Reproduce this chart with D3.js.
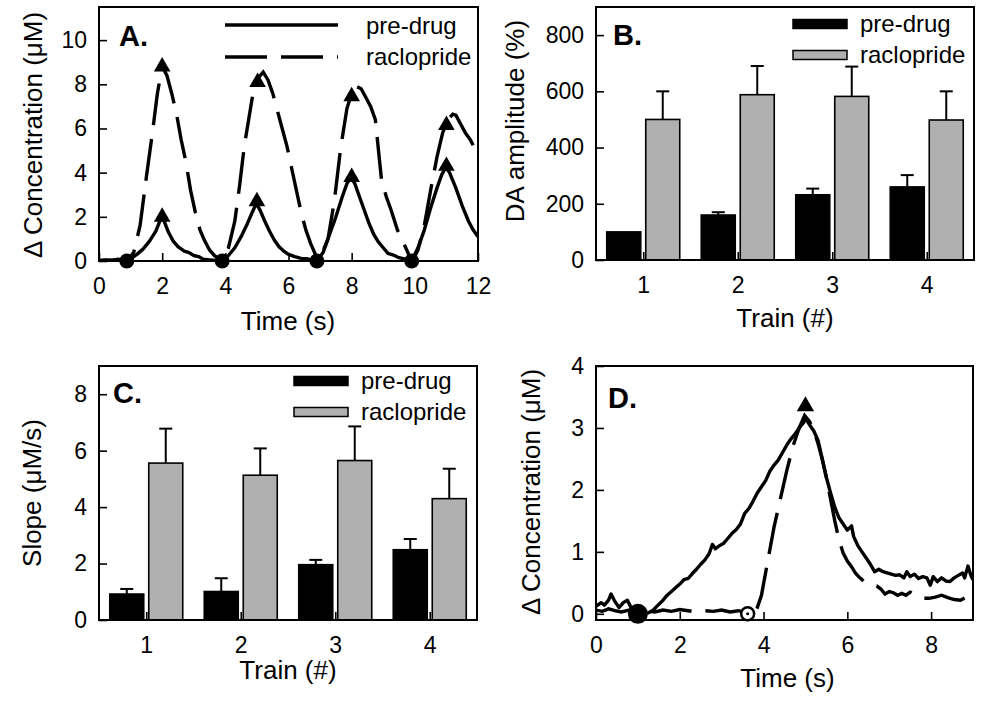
<!DOCTYPE html>
<html><head><meta charset="utf-8">
<script src="https://cdn.jsdelivr.net/npm/d3@7"></script>
<style>
html,body{margin:0;padding:0;background:#fff;}
svg{display:block;font-family:"Liberation Sans",Arial,sans-serif;}
</style></head>
<body>
<svg id="chart" width="985" height="702"></svg>
<script>
// ---------- DATA ----------
const seriesNames = ["pre-drug", "raclopride"];
const trains = ["1", "2", "3", "4"];

// Panel A traces [time (s), concentration (uM)]
const aPreDrug = [[0,0.02],[0.2,0.05],[0.4,0.02],[0.6,0.08],[0.8,0.03],[0.9,0.0],[1.0,0.1],[1.2,0.3],[1.4,0.55],[1.6,0.9],[1.8,1.35],[1.95,1.9],[2.05,1.85],[2.2,1.3],[2.35,0.9],[2.5,0.65],[2.7,0.45],[2.85,0.38],[3.0,0.25],[3.15,0.2],[3.3,0.08],[3.5,0.05],[3.7,0.02],[3.9,0.0],[4.1,0.25],[4.3,0.6],[4.5,1.1],[4.7,1.7],[4.85,2.2],[4.98,2.6],[5.1,2.3],[5.25,1.8],[5.4,1.35],[5.55,0.95],[5.7,0.65],[5.85,0.45],[6.0,0.3],[6.2,0.2],[6.4,0.12],[6.6,0.1],[6.8,0.03],[6.9,0.0],[7.1,0.4],[7.3,1.2],[7.5,2.0],[7.7,2.9],[7.85,3.5],[7.98,3.8],[8.1,3.5],[8.25,2.9],[8.4,2.3],[8.55,1.7],[8.7,1.2],[8.85,0.85],[9.0,0.6],[9.15,0.35],[9.3,0.28],[9.5,0.15],[9.7,0.08],[9.9,0.0],[10.1,0.6],[10.3,1.4],[10.5,2.4],[10.7,3.3],[10.85,3.9],[10.98,4.25],[11.1,4.0],[11.3,3.3],[11.5,2.5],[11.7,1.8],[11.85,1.4],[12.0,1.1]];
const aRaclopride = [[0,0.0],[0.2,0.02],[0.5,0.05],[0.9,0.0],[1.1,0.4],[1.3,1.6],[1.5,3.8],[1.7,5.9],[1.85,7.6],[2.0,8.8],[2.15,8.4],[2.3,7.6],[2.45,6.7],[2.6,5.5],[2.75,4.5],[2.9,3.2],[3.05,2.2],[3.2,1.4],[3.35,0.9],[3.5,0.5],[3.65,0.25],[3.8,0.1],[3.9,0.0],[4.1,0.6],[4.3,1.8],[4.45,3.4],[4.6,5.2],[4.75,6.5],[4.9,7.8],[5.05,8.3],[5.2,8.55],[5.35,8.2],[5.5,7.6],[5.65,6.8],[5.8,6.0],[5.95,5.2],[6.1,4.2],[6.25,3.2],[6.4,2.2],[6.55,1.4],[6.7,0.8],[6.85,0.3],[6.92,0.0],[7.05,0.3],[7.25,1.0],[7.45,2.7],[7.65,5.1],[7.85,6.9],[8.0,7.6],[8.15,7.9],[8.3,7.8],[8.45,7.4],[8.6,7.0],[8.75,6.4],[8.85,5.0],[8.95,3.6],[9.1,2.9],[9.25,2.3],[9.45,1.4],[9.65,0.8],[9.85,0.15],[9.93,0.0],[10.1,0.5],[10.3,1.6],[10.5,3.2],[10.7,4.7],[10.88,5.8],[11.05,6.4],[11.2,6.65],[11.3,6.6],[11.45,6.2],[11.6,5.8],[11.75,5.5],[11.9,5.1],[12.0,4.9]];
const aOnsets = [0.88, 3.9, 6.9, 9.9];
const aPeaksPre = [[2.0,2.0],[5.0,2.7],[8.0,3.8],[11.0,4.3]];
const aPeaksRac = [[2.0,8.8],[5.02,8.1],[8.0,7.45],[11.0,6.15]];

// Panel B: DA amplitude (%)
const bPre = [100, 160, 232, 260];
const bPreErr = [0, 10, 22, 42];
const bRac = [500, 588, 582, 498];
const bRacErr = [100, 102, 106, 102];

// Panel C: slope (uM/s)
const cPre = [0.92, 1.01, 1.96, 2.49];
const cPreErr = [0.18, 0.47, 0.17, 0.38];
const cRac = [5.56, 5.13, 5.65, 4.30];
const cRacErr = [1.22, 0.95, 1.21, 1.06];

// Panel D traces
const dPreDrug = [[0,0.12],[0.12,0.18],[0.2,0.14],[0.3,0.22],[0.36,0.32],[0.45,0.2],[0.55,0.1],[0.65,0.18],[0.75,0.22],[0.85,0.08],[0.95,0.05],[1.05,0.02],[1.2,0.0],[1.35,0.05],[1.45,0.12],[1.6,0.22],[1.7,0.3],[1.8,0.36],[1.9,0.42],[2.0,0.48],[2.1,0.55],[2.2,0.57],[2.3,0.65],[2.4,0.72],[2.5,0.8],[2.6,0.87],[2.7,0.97],[2.78,1.12],[2.85,1.05],[2.95,1.1],[3.05,1.14],[3.15,1.22],[3.25,1.3],[3.35,1.36],[3.45,1.45],[3.55,1.62],[3.65,1.7],[3.75,1.82],[3.85,1.95],[3.95,2.05],[4.05,2.15],[4.15,2.3],[4.25,2.4],[4.35,2.48],[4.45,2.6],[4.55,2.72],[4.65,2.82],[4.75,2.9],[4.85,3.0],[4.95,3.08],[5.0,3.15],[5.1,3.05],[5.2,2.95],[5.3,2.8],[5.4,2.5],[5.5,2.2],[5.6,1.95],[5.7,1.72],[5.8,1.55],[5.9,1.45],[6.0,1.35],[6.1,1.42],[6.15,1.25],[6.25,1.1],[6.35,1.0],[6.45,0.9],[6.55,0.8],[6.65,0.68],[6.75,0.72],[6.85,0.68],[6.95,0.66],[7.05,0.64],[7.15,0.62],[7.25,0.63],[7.35,0.58],[7.42,0.68],[7.5,0.6],[7.6,0.64],[7.7,0.57],[7.8,0.6],[7.9,0.58],[7.98,0.46],[8.05,0.6],[8.15,0.52],[8.25,0.58],[8.35,0.53],[8.45,0.52],[8.55,0.58],[8.65,0.62],[8.75,0.66],[8.8,0.58],[8.88,0.77],[8.95,0.62],[9.0,0.55]];
const dRaclopride = [[0,0.06],[0.15,0.04],[0.3,0.08],[0.45,0.05],[0.6,0.03],[0.8,0.06],[1.0,0.02],[1.2,0.05],[1.4,0.03],[1.6,0.06],[1.8,0.04],[2.0,0.07],[2.2,0.05],[2.4,0.03],[2.6,0.05],[2.8,0.04],[3.0,0.06],[3.2,0.03],[3.4,0.05],[3.6,0.02],[3.8,0.0],[3.95,0.3],[4.1,0.85],[4.25,1.4],[4.4,1.85],[4.55,2.3],[4.7,2.7],[4.85,3.0],[4.98,3.2],[5.1,3.1],[5.2,2.95],[5.3,2.75],[5.4,2.5],[5.5,2.2],[5.6,1.85],[5.7,1.5],[5.8,1.2],[5.9,0.98],[6.0,0.85],[6.1,0.76],[6.2,0.65],[6.3,0.58],[6.4,0.52],[6.55,0.47],[6.7,0.45],[6.8,0.4],[6.9,0.32],[7.0,0.36],[7.1,0.34],[7.2,0.3],[7.3,0.33],[7.4,0.3],[7.5,0.35],[7.65,0.3],[7.8,0.25],[7.95,0.25],[8.1,0.27],[8.25,0.3],[8.4,0.26],[8.55,0.23],[8.7,0.22],[8.84,0.27]];
const dOnsetPre = [1.0, 0];
const dOnsetRac = [3.62, 0];
const dPeak = [5.0, 3.35];

const aXTicks = [0,2,4,6,8,10,12];
const aYTicks = [0,2,4,6,8,10];
const bYTicks = [0,200,400,600,800];
const cYTicks = [0,2,4,6,8];
const dXTicks = [0,2,4,6,8];
const dYTicks = [0,1,2,3,4];

// ---------- DRAWING ----------
const svg = d3.select("#chart");
const FONT_TICK = 23, FONT_TITLE = 26, FONT_LEG = 24, FONT_LABEL = 29;
const DASH = "42,14";
const GREY = "#b0b0b0";
const LW = 3.4;

function frame(g, L, R, T, B) {
  g.append("rect").attr("x", L).attr("y", T).attr("width", R - L).attr("height", B - T)
    .attr("fill", "none").attr("stroke", "#000").attr("stroke-width", 2);
}
function styleAxis(sel) {
  sel.select(".domain").remove();
  sel.selectAll(".tick line").attr("stroke", "#000").attr("stroke-width", 1.6);
  sel.selectAll(".tick text").attr("font-size", FONT_TICK).attr("fill", "#000")
    .attr("font-family", "Liberation Sans, Arial, sans-serif");
}
function yAxis(g, y, L, ticks, fmt) {
  const ax = g.append("g").attr("transform", `translate(${L},0)`)
    .call(d3.axisLeft(y).tickValues(ticks).tickSize(-8).tickPadding(12).tickFormat(fmt || d3.format("d")));
  styleAxis(ax);
}
function xAxis(g, x, B, ticks, fmt) {
  const ax = g.append("g").attr("transform", `translate(0,${B})`)
    .call(d3.axisBottom(x).tickValues(ticks).tickSize(-8).tickPadding(17).tickFormat(fmt || d3.format("d")));
  styleAxis(ax);
}
function text(g, x, y, s, opts) {
  opts = opts || {};
  const t = g.append("text").attr("x", x).attr("y", y).text(s)
    .attr("font-size", opts.size || FONT_TITLE).attr("fill", "#000")
    .attr("text-anchor", opts.anchor || "start");
  if (opts.bold) t.attr("font-weight", "bold");
  if (opts.rot) t.attr("transform", `rotate(-90,${x},${y})`);
  return t;
}
function clip(id, L, R, T, B) {
  svg.append("clipPath").attr("id", id).append("rect")
    .attr("x", L).attr("y", T).attr("width", R - L).attr("height", B - T);
}

// ---------- Panel A ----------
(function(){
  const L = 99, R = 478, T = 7, B = 261;
  const g = svg.append("g");
  const x = d3.scaleLinear().domain([0, 12]).range([L, R]);
  const y = d3.scaleLinear().domain([0, 11.5]).range([B, T]);
  clip("clipA", L, R, T, B);
  const line = d3.line().x(d => x(d[0])).y(d => y(d[1]));
  const lg = g.append("g").attr("clip-path", "url(#clipA)");
  lg.append("path").datum(aPreDrug).attr("d", line).attr("fill", "none")
    .attr("stroke", "#000").attr("stroke-width", LW).attr("stroke-linejoin", "round");
  lg.append("path").datum(aRaclopride).attr("d", line).attr("fill", "none")
    .attr("stroke", "#000").attr("stroke-width", LW).attr("stroke-dasharray", DASH);
  const tri = d3.symbol().type(d3.symbolTriangle).size(120);
  g.selectAll(".tp").data(aPeaksPre.concat(aPeaksRac)).join("path")
    .attr("d", tri).attr("transform", d => `translate(${x(d[0])},${y(d[1])})`).attr("fill", "#000");
  g.selectAll(".on").data(aOnsets).join("circle")
    .attr("cx", d => x(d)).attr("cy", y(0)).attr("r", 7.5).attr("fill", "#000");
  xAxis(g, x, B, aXTicks);
  yAxis(g, y, L, aYTicks);
  frame(g, L, R, T, B);
  // legend
  g.append("line").attr("x1", 225).attr("x2", 338).attr("y1", 25).attr("y2", 25)
    .attr("stroke", "#000").attr("stroke-width", LW);
  g.append("line").attr("x1", 225).attr("x2", 338).attr("y1", 57).attr("y2", 57)
    .attr("stroke", "#000").attr("stroke-width", LW).attr("stroke-dasharray", DASH);
  text(g, 366, 34, seriesNames[0], {size: FONT_LEG});
  text(g, 366, 65, seriesNames[1], {size: FONT_LEG});
  text(g, 119, 46, "A.", {size: FONT_LABEL, bold: true});
  text(g, 288, 330, "Time (s)", {anchor: "middle"});
  text(g, 42, 135, "\u0394 Concentration (\u03bcM)", {anchor: "middle", rot: true});
})();

// ---------- Bar panels ----------
function barPanel(opt) {
  const {L, R, T, B, ymax, pre, preErr, rac, racErr, ticks, label, labelPos, ytitle, ytitlePos, xtitleY, legY, legX} = opt;
  const g = svg.append("g");
  const x0 = d3.scaleBand().domain(trains).range([L, R]).paddingInner(0.2275).paddingOuter(0.11375);
  const x1 = d3.scaleBand().domain(seriesNames).range([0, x0.bandwidth()]).paddingInner(0.128);
  const y = d3.scaleLinear().domain([0, ymax]).range([B, T]);
  const rows = trains.map((t, i) => ({t, vals: [
    {s: seriesNames[0], v: pre[i], e: preErr[i]},
    {s: seriesNames[1], v: rac[i], e: racErr[i]}]}));
  const grp = g.selectAll(".grp").data(rows).join("g").attr("transform", d => `translate(${x0(d.t)},0)`);
  grp.selectAll(".err").data(d => d.vals).join("g").each(function(d){
    const cx = x1(d.s) + x1.bandwidth() / 2;
    const gg = d3.select(this);
    if (d.e > 0) {
      gg.append("line").attr("x1", cx).attr("x2", cx).attr("y1", y(d.v)).attr("y2", y(d.v + d.e))
        .attr("stroke", "#000").attr("stroke-width", 2);
      gg.append("line").attr("x1", cx - 6.5).attr("x2", cx + 6.5).attr("y1", y(d.v + d.e)).attr("y2", y(d.v + d.e))
        .attr("stroke", "#000").attr("stroke-width", 2);
    }
  });
  grp.selectAll("rect").data(d => d.vals).join("rect")
    .attr("x", d => x1(d.s)).attr("width", x1.bandwidth())
    .attr("y", d => y(d.v)).attr("height", d => B - y(d.v))
    .attr("fill", d => d.s === seriesNames[0] ? "#000" : GREY)
    .attr("stroke", "#000").attr("stroke-width", 1.6);
  const xc = d3.scalePoint().domain(trains).range([x0(trains[0]) + x0.bandwidth()/2, x0(trains[3]) + x0.bandwidth()/2]);
  xAxis(g, xc, B, trains, d => d);
  yAxis(g, y, L, ticks, opt.fmt);
  frame(g, L, R, T, B);
  g.append("rect").attr("x", legX).attr("y", legY - 4.5).attr("width", 54).attr("height", 9)
    .attr("fill", "#000").attr("stroke", "#000").attr("stroke-width", 1.5);
  g.append("rect").attr("x", legX).attr("y", legY + 31 - 4.5).attr("width", 54).attr("height", 9)
    .attr("fill", GREY).attr("stroke", "#000").attr("stroke-width", 1.5);
  text(g, legX + 67, legY + 8, seriesNames[0], {size: FONT_LEG});
  text(g, legX + 67, legY + 39, seriesNames[1], {size: FONT_LEG});
  text(g, labelPos[0], labelPos[1], label, {size: FONT_LABEL, bold: true});
  text(g, (L + R) / 2, xtitleY, "Train (#)", {anchor: "middle"});
  text(g, ytitlePos[0], ytitlePos[1], ytitle, {anchor: "middle", rot: true});
}

barPanel({L: 596, R: 974, T: 7, B: 260, ymax: 900, pre: bPre, preErr: bPreErr, rac: bRac, racErr: bRacErr,
  ticks: bYTicks, label: "B.", labelPos: [613, 45], ytitle: "DA amplitude (%)", ytitlePos: [524, 121],
  xtitleY: 327, legX: 793, legY: 24});
barPanel({L: 99, R: 477, T: 366, B: 620, ymax: 9, pre: cPre, preErr: cPreErr, rac: cRac, racErr: cRacErr,
  ticks: cYTicks, label: "C.", labelPos: [113, 403], ytitle: "Slope (\u03bcM/s)", ytitlePos: [41, 493],
  xtitleY: 679, legX: 294, legY: 381});

// ---------- Panel D ----------
(function(){
  const L = 596, R = 973, T = 366, B = 620;
  const g = svg.append("g");
  const x = d3.scaleLinear().domain([0, 9]).range([L, R]);
  const y = d3.scaleLinear().domain([-0.1, 4]).range([B, T]);
  clip("clipD", L, R, T, B);
  const line = d3.line().x(d => x(d[0])).y(d => y(d[1]));
  const lg = g.append("g").attr("clip-path", "url(#clipD)");
  lg.append("path").datum(dPreDrug).attr("d", line).attr("fill", "none")
    .attr("stroke", "#000").attr("stroke-width", LW).attr("stroke-linejoin", "round");
  lg.append("path").datum(dRaclopride).attr("d", line).attr("fill", "none")
    .attr("stroke", "#000").attr("stroke-width", LW).attr("stroke-dasharray", DASH);
  g.append("circle").attr("cx", x(dOnsetPre[0])).attr("cy", y(dOnsetPre[1])).attr("r", 10).attr("fill", "#000");
  g.append("circle").attr("cx", x(dOnsetRac[0])).attr("cy", y(dOnsetRac[1])).attr("r", 6.5)
    .attr("fill", "#fff").attr("stroke", "#000").attr("stroke-width", 2.5);
  g.append("circle").attr("cx", x(dOnsetRac[0])).attr("cy", y(dOnsetRac[1])).attr("r", 1.5).attr("fill", "#000");
  g.append("path").attr("d", d3.symbol().type(d3.symbolTriangle).size(130))
    .attr("transform", `translate(${x(dPeak[0])},${y(dPeak[1])})`).attr("fill", "#000");
  xAxis(g, x, B, dXTicks);
  yAxis(g, y, L, dYTicks);
  frame(g, L, R, T, B);
  text(g, 608, 408, "D.", {size: FONT_LABEL, bold: true});
  text(g, (L + R) / 2 + 3, 687, "Time (s)", {anchor: "middle"});
  text(g, 540, 492, "\u0394 Concentration (\u03bcM)", {anchor: "middle", rot: true});
})();
</script>
</body></html>
